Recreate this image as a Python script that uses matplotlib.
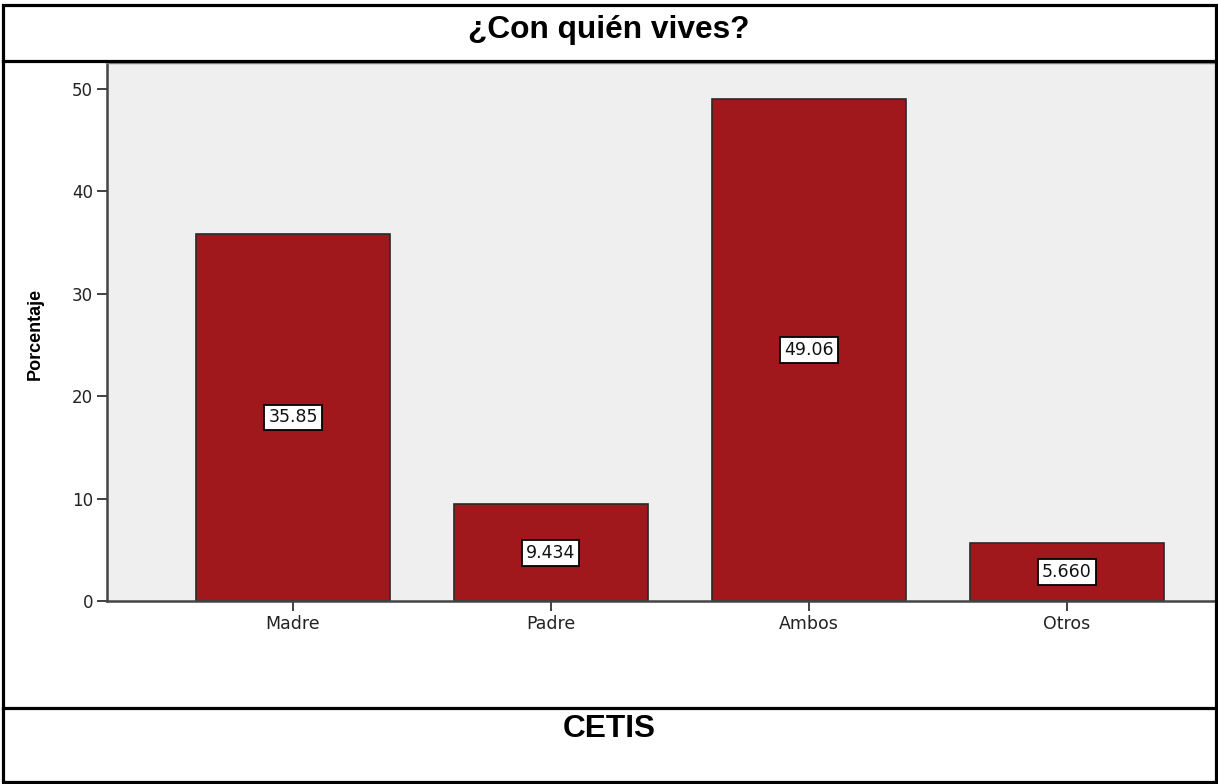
import numpy as np
import matplotlib.pyplot as plt
from matplotlib.lines import Line2D
from matplotlib.patches import Rectangle

categorias = ["Madre", "Padre", "Ambos", "Otros"]
porcentajes = [35.85, 9.434, 49.06, 5.660]
etiquetas = ["35.85", "9.434", "49.06", "5.660"]
yticks = [0, 10, 20, 30, 40, 50]

W, H = 1218, 784
fig = plt.figure(figsize=(W / 100, H / 100), dpi=100)

def fx(px):
    return px / W

def fy(py):
    return 1 - py / H

# area del grafico
ax = fig.add_axes([fx(107), fy(601), fx(1216) - fx(107), fy(62) - fy(601)])
ax.set_facecolor("#efefef")
x = np.arange(len(categorias))
ax.bar(x, porcentajes, width=0.75, color="#a0171c", edgecolor="#2a2a2a", linewidth=1.2, zorder=2)

for xi, v, t in zip(x, porcentajes, etiquetas):
    ax.text(xi, v / 2, t, ha="center", va="center", fontsize=12.5, family="DejaVu Sans",
            color="#111111", zorder=3,
            bbox=dict(boxstyle="square,pad=0.22", facecolor="white", edgecolor="black", linewidth=1.3))

ax.set_xlim(-0.721, 3.578)
ax.set_ylim(0, 52.64)
ax.set_xticks(x)
ax.set_xticklabels(categorias, fontsize=12.5, family="DejaVu Sans", color="#222222")
ax.set_yticks(yticks)
ax.set_yticklabels([str(t) for t in yticks], fontsize=12, family="DejaVu Sans", color="#222222")
ax.tick_params(axis="both", length=7, width=1.3, color="#333333", pad=3)
for s in ["left", "bottom"]:
    ax.spines[s].set_color("#444444")
    ax.spines[s].set_linewidth(1.8)
ax.spines["top"].set_color("#888888")
ax.spines["top"].set_linewidth(2.5)
ax.spines["right"].set_visible(False)

fig.text(fx(35), fy(334), "Porcentaje", rotation=90, ha="center", va="center",
         fontsize=13, fontweight="bold", family=["Liberation Sans Narrow", "Liberation Sans"])

# marco tipo tabla
lw = 2.3
fig.add_artist(Rectangle((fx(3), fy(782)), fx(1216) - fx(3), fy(5) - fy(782), transform=fig.transFigure,
                         fill=False, edgecolor="black", linewidth=lw, zorder=10))
fig.add_artist(Line2D([fx(3), fx(1216)], [fy(61), fy(61)], transform=fig.transFigure,
                      color="black", linewidth=lw, zorder=10))
fig.add_artist(Line2D([fx(3), fx(1216)], [fy(708), fy(708)], transform=fig.transFigure,
                      color="black", linewidth=lw, zorder=10))

fig.text(0.5, fy(30), "¿Con quién vives?", ha="center", va="center", fontsize=22.8,
         fontweight="bold", family="Liberation Sans")
fig.text(0.5, fy(729), "CETIS", ha="center", va="center", fontsize=22.8,
         fontweight="bold", family="Liberation Sans")

fig.savefig("out.png", dpi=100)
